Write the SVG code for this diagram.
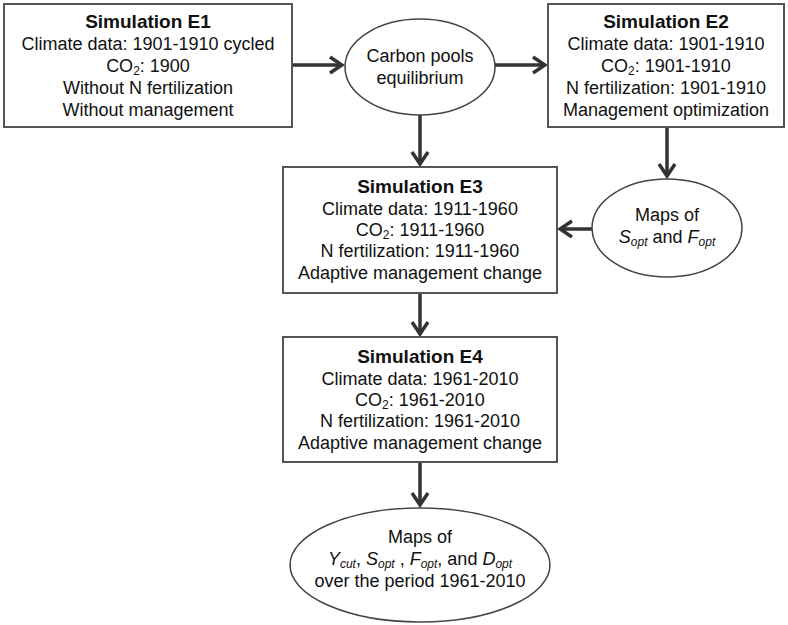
<svg xmlns="http://www.w3.org/2000/svg" width="788" height="625" viewBox="0 0 788 625">
<style>
text{font-family:"Liberation Sans",Arial,sans-serif;font-size:18px;fill:#111;text-anchor:middle}
.t{font-weight:bold;font-size:19px}
.box{fill:#fff;stroke:#555;stroke-width:2}
.ell{fill:#fff;stroke:#444;stroke-width:1.5}
.con{stroke:#333;stroke-width:3.5;fill:none;marker-end:url(#ah)}
.sub{font-size:12px}
.i{font-style:italic}
</style>
<defs>
<marker id="ah" viewBox="-15 -11 18 22" refX="0" refY="0" markerWidth="18" markerHeight="22" markerUnits="userSpaceOnUse" orient="auto">
<path d="M-12,-8 L0,0 L-12,8" fill="none" stroke="#333" stroke-width="3.5"/>
</marker>
</defs>
<rect width="788" height="625" fill="#fff"/>
<g id="connectors">
<line class="con" x1="292" y1="65" x2="342" y2="65"/>
<line class="con" x1="495" y1="65" x2="545" y2="65"/>
<line class="con" x1="420" y1="115" x2="420" y2="164"/>
<line class="con" x1="667" y1="128" x2="667" y2="176"/>
<line class="con" x1="592" y1="229" x2="560" y2="229"/>
<line class="con" x1="420" y1="294" x2="420" y2="334"/>
<line class="con" x1="420" y1="463" x2="420" y2="505"/>
</g>
<g id="e1">
<rect class="box" x="4" y="4" width="288" height="123"/>
<text class="t" x="148" y="28">Simulation E1</text>
<text x="148" y="50">Climate data: 1901-1910 cycled</text>
<text x="148" y="72">CO<tspan class="sub" dy="3">2</tspan><tspan dy="-3">: 1900</tspan></text>
<text x="148" y="94">Without N fertilization</text>
<text x="148" y="116">Without management</text>
</g>
<g id="carbon">
<ellipse class="ell" cx="420" cy="67" rx="75" ry="48"/>
<text x="420" y="62">Carbon pools</text>
<text x="420" y="84">equilibrium</text>
</g>
<g id="e2">
<rect class="box" x="548" y="4" width="236" height="123"/>
<text class="t" x="666" y="28">Simulation E2</text>
<text x="666" y="50">Climate data: 1901-1910</text>
<text x="666" y="72">CO<tspan class="sub" dy="3">2</tspan><tspan dy="-3">: 1901-1910</tspan></text>
<text x="666" y="94">N fertilization: 1901-1910</text>
<text x="666" y="116">Management optimization</text>
</g>
<g id="maps1">
<ellipse class="ell" cx="667" cy="228" rx="75" ry="49"/>
<text x="667" y="221">Maps of</text>
<text x="667" y="243"><tspan class="i">S</tspan><tspan class="sub i" dy="3">opt</tspan><tspan dy="-3"> and </tspan><tspan class="i">F</tspan><tspan class="sub i" dy="3">opt</tspan></text>
</g>
<g id="e3">
<rect class="box" x="283" y="167" width="274" height="126"/>
<text class="t" x="420" y="193">Simulation E3</text>
<text x="420" y="215">Climate data: 1911-1960</text>
<text x="420" y="236">CO<tspan class="sub" dy="3">2</tspan><tspan dy="-3">: 1911-1960</tspan></text>
<text x="420" y="257">N fertilization: 1911-1960</text>
<text x="420" y="279">Adaptive management change</text>
</g>
<g id="e4">
<rect class="box" x="283" y="337" width="274" height="125"/>
<text class="t" x="420" y="363">Simulation E4</text>
<text x="420" y="385">Climate data: 1961-2010</text>
<text x="420" y="406">CO<tspan class="sub" dy="3">2</tspan><tspan dy="-3">: 1961-2010</tspan></text>
<text x="420" y="427">N fertilization: 1961-2010</text>
<text x="420" y="449">Adaptive management change</text>
</g>
<g id="maps2">
<ellipse class="ell" cx="420" cy="565" rx="130" ry="57"/>
<text x="420" y="543">Maps of</text>
<text x="420" y="565"><tspan class="i">Y</tspan><tspan class="sub i" dy="3">cut</tspan><tspan dy="-3">, </tspan><tspan class="i">S</tspan><tspan class="sub i" dy="3">opt</tspan><tspan dy="-3"> , </tspan><tspan class="i">F</tspan><tspan class="sub i" dy="3">opt</tspan><tspan dy="-3">, and </tspan><tspan class="i">D</tspan><tspan class="sub i" dy="3">opt</tspan></text>
<text x="420" y="587">over the period 1961-2010</text>
</g>
</svg>
